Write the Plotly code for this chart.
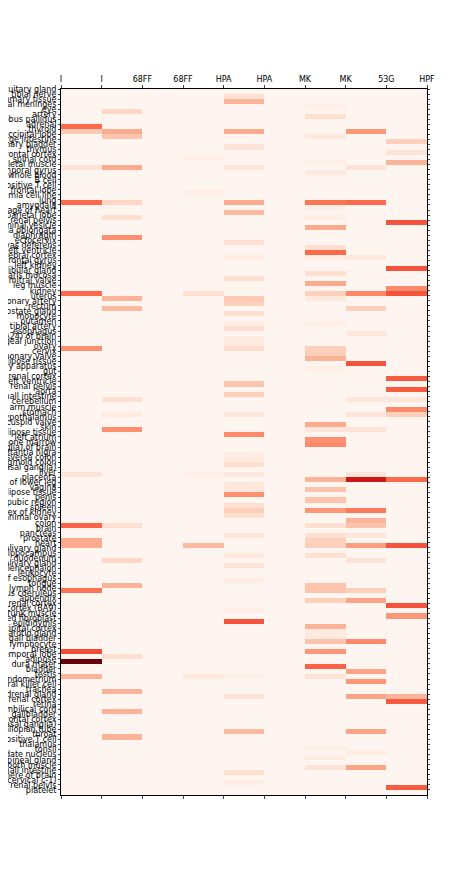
import plotly.graph_objects as go

tissues = ["pituitary gland","tibial nerve","mammary tissue","cerebral meninges","eye","artery","globus pallidus","adrenal","thyroid","occipital lobe","large intestine","urinary bladder","thymus","prefrontal cortex","spinal cord","skeletal muscle","temporal gyrus","whole blood","B cell","CD4-positive T cell","frontal lobe","leukemia cell line","lung","amygdala","appendage of heart","parietal lobe","right renal pelvis","seminal vesicle","medulla oblongata","diaphragm","ectocervix","vas deferens","left ventricle","cerebral cortex","middle frontal gyrus","left kidney","mandibular gland","muscularis mucosa","mitral valve","leg muscle","kidney","uterus","coronary artery","rectum","prostate gland","monocyte","putamen","tibial artery","esophagus","(BA24) of brain","gastroesophageal junction","ovary","cervix","pulmonary valve","adipose tissue","olfactory apparatus","gut","right renal cortex","heart left ventricle","renal pelvis","aorta","small intestine","cerebellum","arm muscle","stomach","hypothalamus","tricuspid valve","skin","subcutaneous adipose tissue","left atrium","bone marrow","(basal ganglia) of brain","substantia nigra","transverse colon","sigmoid colon","(basal ganglia)","liver","placenta","skin of lower leg","vagina","visceral adipose tissue","penis","suprapubic region","spleen","cortex of kidney","animal ovary","colon","brain","pancreas","prostate","heart","salivary gland","hippocampus","duodenum","minor salivary gland","diencephalon","leukocyte","mucosa of esophagus","tongue","lymph node","locus coeruleus","appendix","left renal cortex","frontal cortex (BA9)","trunk muscle","transformed fibroblast","epididymis","occipital cortex","parotid gland","gall bladder","transformed lymphocyte","breast","temporal lobe","adipose","dura mater","bladder","testis","endometrium","natural killer cell","trachea","adrenal gland","renal cortex","retina","umbilical cord","gallbladder","frontal cortex","(basal ganglia)","fallopian tube","throat","CD8-positive T cell","thalamus","tonsil","caudate nucleus","pineal gland","smooth muscle","small intestine","hemisphere of brain","cord (cervical c-1)","left renal pelvis","platelet"]

col_labels = ["I", "I", "68FF", "68FF", "HPA", "HPA", "MK", "MK", "53G", "HPF"]

# nonzero values per column: {row index: value}
col0 = {7: 0.5, 8: 0.2, 15: 0.1, 22: 0.5, 40: 0.5, 51: 0.38, 76: 0.1, 86: 0.52,
        89: 0.3, 90: 0.3, 99: 0.47, 111: 0.58, 113: 1.0, 116: 0.27}
col1 = {4: 0.16, 8: 0.3, 9: 0.22, 15: 0.3, 22: 0.16, 25: 0.13, 29: 0.38, 41: 0.27,
        43: 0.25, 61: 0.13, 64: 0.06, 67: 0.38, 86: 0.13, 93: 0.16, 98: 0.27,
        112: 0.13, 119: 0.27, 123: 0.27, 128: 0.27}
col2 = {}
col3 = {13: 0.04, 20: 0.04, 40: 0.13, 76: 0.04, 90: 0.25, 116: 0.07}
col4 = {1: 0.13, 2: 0.27, 8: 0.3, 11: 0.1, 15: 0.09, 22: 0.3, 24: 0.25, 30: 0.13, 33: 0.05,
        37: 0.13, 41: 0.2, 42: 0.18, 44: 0.13, 46: 0.05, 47: 0.13, 49: 0.07, 50: 0.07,
        51: 0.13, 58: 0.22, 60: 0.18, 64: 0.09, 68: 0.4, 72: 0.05, 73: 0.07, 74: 0.13,
        76: 0.07, 78: 0.09, 79: 0.09, 80: 0.38, 82: 0.13, 83: 0.18, 84: 0.13, 88: 0.09,
        92: 0.07, 94: 0.1, 97: 0.05, 103: 0.04, 105: 0.56, 116: 0.04, 120: 0.1,
        127: 0.25, 135: 0.13, 137: 0.04}
col5 = {}
col6 = {3: 0.04, 5: 0.13, 9: 0.07, 14: 0.04, 16: 0.07, 22: 0.47, 23: 0.04, 25: 0.05,
        27: 0.3, 31: 0.13, 32: 0.5, 33: 0.05, 36: 0.13, 38: 0.3, 40: 0.18, 41: 0.07,
        46: 0.04, 51: 0.18, 52: 0.18, 53: 0.27, 55: 0.04, 66: 0.3, 67: 0.09, 69: 0.38,
        70: 0.4, 77: 0.27, 79: 0.22, 81: 0.22, 83: 0.36, 86: 0.13, 88: 0.13, 89: 0.18,
        90: 0.18, 92: 0.13, 98: 0.22, 99: 0.22, 101: 0.18, 106: 0.27, 107: 0.07, 108: 0.07,
        109: 0.22, 111: 0.36, 114: 0.52, 116: 0.1, 130: 0.04, 132: 0.05, 134: 0.1}
col7 = {8: 0.36, 15: 0.1, 22: 0.5, 33: 0.07, 40: 0.4, 43: 0.18, 48: 0.09, 54: 0.56,
        61: 0.09, 64: 0.1, 67: 0.1, 76: 0.1, 77: 0.75, 83: 0.45, 85: 0.27, 86: 0.22,
        88: 0.09, 90: 0.34, 93: 0.1, 99: 0.18, 101: 0.32, 109: 0.4, 115: 0.32,
        117: 0.36, 120: 0.32, 127: 0.32, 131: 0.05, 134: 0.32}
col8 = {10: 0.18, 12: 0.1, 14: 0.27, 26: 0.56, 35: 0.56, 39: 0.4, 40: 0.56, 57: 0.54,
        59: 0.54, 61: 0.09, 63: 0.4, 64: 0.18, 77: 0.5, 90: 0.56, 102: 0.56, 104: 0.36,
        120: 0.27, 121: 0.54, 138: 0.54}

columns = [col0, col1, col2, col3, col4, col5, col6, col7, col8]
n = len(tissues)
z = [[c.get(i, 0.0) for c in columns] for i in range(n)]

fig = go.Figure(go.Heatmap(
    z=z,
    x=[j + 0.5 for j in range(len(columns))],
    y=[i + 0.5 for i in range(n)],
    colorscale="Reds", zmin=0, zmax=1, showscale=False, hoverinfo="skip",
))

fig.update_layout(
    width=474, height=883,
    margin=dict(l=53, r=55, t=81, b=96, autoexpand=False),
    paper_bgcolor="white", plot_bgcolor="white",
    font=dict(family="DejaVu Sans", color="black"),
)
fig.update_xaxes(side="top", range=[0, 9], tickvals=list(range(10)), ticktext=col_labels,
                 tickfont=dict(size=8), ticks="outside", ticklen=3, showline=True,
                 linecolor="black", linewidth=1, mirror="ticks", automargin=False,
                 showgrid=False, zeroline=False)
fig.update_yaxes(range=[n, 0], tickvals=list(range(n)), ticktext=tissues,
                 tickfont=dict(size=8), ticks="outside", ticklen=2, showline=True,
                 linecolor="black", linewidth=1, mirror="ticks", automargin=False,
                 showgrid=False, zeroline=False)

fig.write_html("out.html")
